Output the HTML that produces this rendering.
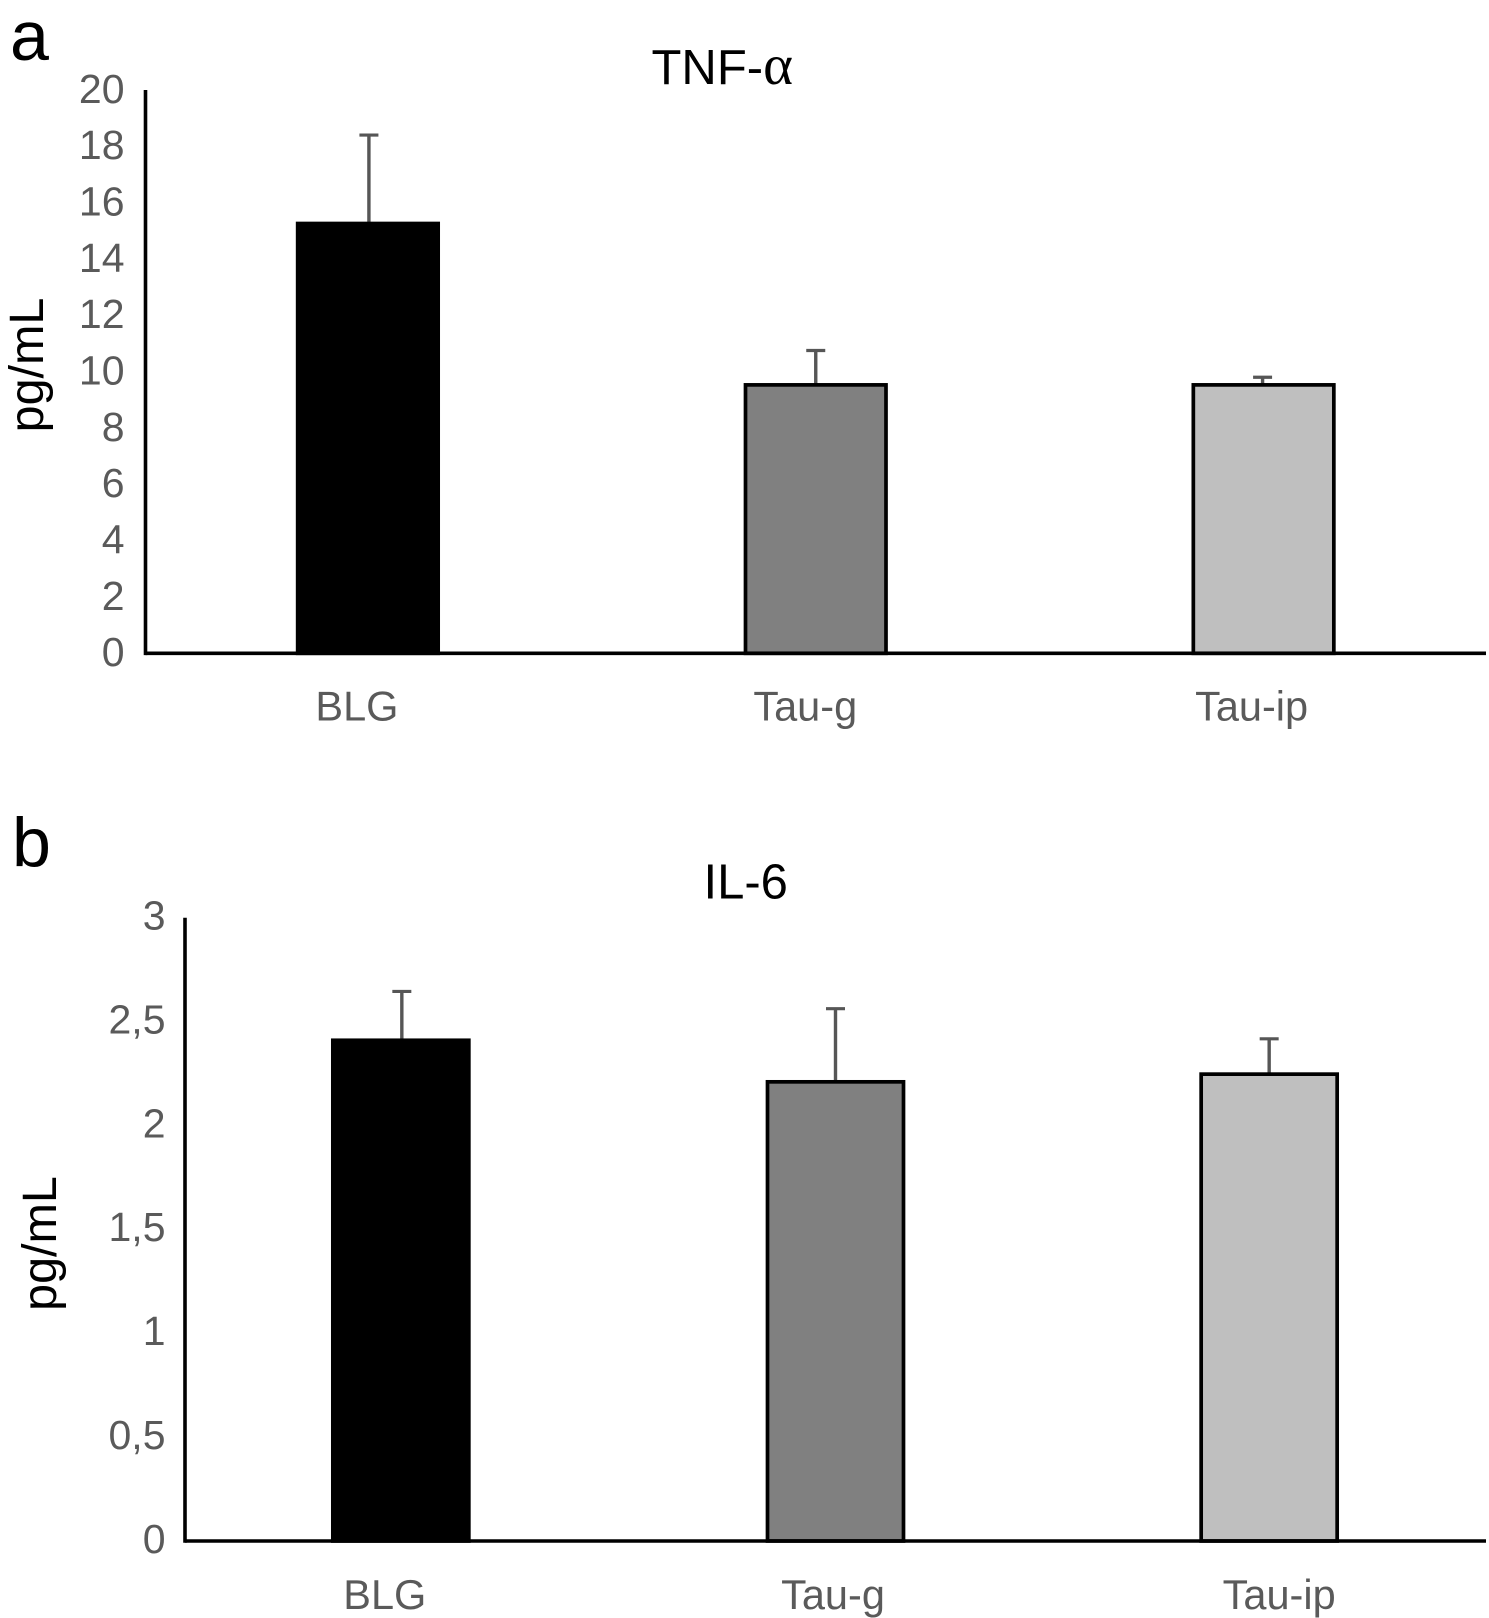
<!DOCTYPE html>
<html lang="en">
<head>
<meta charset="utf-8">
<title>TNF-α and IL-6 levels</title>
<style>
html,body{margin:0;padding:0;background:#fff;}
svg{display:block;font-family:"Liberation Sans",Arial,sans-serif;}
</style>
</head>
<body>
<svg id="figure" xmlns="http://www.w3.org/2000/svg" width="1489" height="1618" viewBox="0 0 1489 1618">
  <rect x="0" y="0" width="1489" height="1618" fill="#fff"/>
  <text x="10" y="60" font-size="70" fill="#000">a</text>
  <text x="12" y="866.5" font-size="70" fill="#000">b</text>
  <text x="651.5" y="84" font-size="49" fill="#000">TNF-<tspan font-family="'Liberation Serif',serif" font-size="57">α</tspan></text>
  <text x="703.5" y="898.3" font-size="49" fill="#000">IL-6</text>
  <text transform="translate(43,365) rotate(-90)" text-anchor="middle" font-size="48.5" fill="#000">pg/mL</text>
  <text transform="translate(56,1243.5) rotate(-90)" text-anchor="middle" font-size="48.5" fill="#000">pg/mL</text>
  <g id="panel-a"></g>
  <g id="panel-b"></g>
</svg>
<script>
// Chart data
const categories = ['BLG', 'Tau-g', 'Tau-ip'];
const fills = ['#000000', '#808080', '#bfbfbf'];

const tnfValues = [15.26, 9.53, 9.53];
const tnfUpper = [18.4, 10.75, 9.8];
const tnfTicks = [0, 2, 4, 6, 8, 10, 12, 14, 16, 18, 20];

const il6Values = [2.41, 2.21, 2.247];
const il6Upper = [2.645, 2.562, 2.417];
const il6Ticks = [0, 0.5, 1, 1.5, 2, 2.5, 3];

const SVG_NS = 'http://www.w3.org/2000/svg';

function shape(parent, tag, attrs, text) {
  const el = document.createElementNS(SVG_NS, tag);
  for (const key in attrs) el.setAttribute(key, attrs[key]);
  if (text !== undefined) el.textContent = text;
  parent.appendChild(el);
  return el;
}

function drawChart(cfg) {
  const g = document.getElementById(cfg.id);
  const yMax = cfg.ticks[cfg.ticks.length - 1];
  const band = (cfg.right - cfg.left) / cfg.categories.length;
  const xCenter = function (i) { return cfg.left + band * (i + 0.5); };
  const y = function (v) { return cfg.bottom - (v / yMax) * (cfg.bottom - cfg.top); };

  cfg.categories.forEach(function (name, i) {
    const slug = name.toLowerCase();
    const cx = xCenter(i);

    const stem = shape(g, 'line', {
      x1: cx, x2: cx, y1: y(cfg.values[i]), y2: y(cfg.upper[i]),
      stroke: '#565656', 'stroke-width': 3.4
    });
    
    

    const cap = shape(g, 'line', {
      x1: cx - 9.5, x2: cx + 9.5, y1: y(cfg.upper[i]), y2: y(cfg.upper[i]),
      stroke: '#565656', 'stroke-width': 3.2
    });
    
    

    const bar = shape(g, 'rect', {
      x: cx + cfg.barNudge[i] - cfg.barWidth / 2,
      y: y(cfg.values[i]),
      width: cfg.barWidth,
      height: cfg.bottom - y(cfg.values[i]),
      fill: cfg.fills[i],
      stroke: '#000',
      'stroke-width': 3.7
    });
    
    

    const label = shape(g, 'text', {
      x: cx + cfg.labelNudge[i],
      y: cfg.labelBaseline,
      'text-anchor': 'middle',
      'font-size': 41.5,
      fill: '#5a5a5a'
    }, name);
    
    
  });

  cfg.ticks.forEach(function (t) {
    const tick = shape(g, 'text', {
      x: cfg.tickRight,
      y: y(t) + cfg.tickShift,
      'text-anchor': 'end',
      'font-size': 41,
      fill: '#5a5a5a'
    }, String(t).replace('.', ','));
    
    
  });

  const yAxis = shape(g, 'line', {
    x1: cfg.left, x2: cfg.left, y1: cfg.top, y2: cfg.bottom + 1.8,
    stroke: '#000', 'stroke-width': 3.6
  });
  
  

  const xAxis = shape(g, 'line', {
    x1: cfg.left, x2: cfg.right, y1: cfg.bottom, y2: cfg.bottom,
    stroke: '#000', 'stroke-width': 3.6
  });
  
  
}

drawChart({
  id: 'panel-a', prefix: 'tnf', categories: categories, fills: fills,
  values: tnfValues, upper: tnfUpper, ticks: tnfTicks,
  left: 145.5, right: 1486, top: 90, bottom: 653.3,
  barWidth: 140.5, tickRight: 124.5, tickShift: 12.8,
  labelBaseline: 720.7, labelNudge: [-12, -10.5, -11], barNudge: [-1, 0, 1]
});

drawChart({
  id: 'panel-b', prefix: 'il6', categories: categories, fills: fills,
  values: il6Values, upper: il6Upper, ticks: il6Ticks,
  left: 185, right: 1486, top: 917.7, bottom: 1541,
  barWidth: 136, tickRight: 165.5, tickShift: 11.8,
  labelBaseline: 1609, labelNudge: [-17, -2.5, 10], barNudge: [-1, 0, 0]
});
</script>
</body>
</html>
